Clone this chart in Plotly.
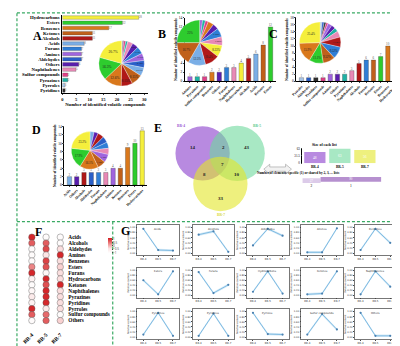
import plotly.graph_objects as go

W, H = 400, 346
SERIF = "Liberation Serif"
SANS = "DejaVu Sans"

# ---------------- data ----------------
a_categories = ["Hydrocarbons", "Esters", "Benzenes", "Ketones", "Alcohols", "Acids", "Furans",
                "Amines", "Aldehydes", "Others", "Naphthalenes", "Sulfur compounds", "Pyrazines",
                "Pyrroles", "Pyridines"]
a_values = [28, 22, 17, 11, 11, 8, 7, 7, 7, 6, 5, 2, 2, 1, 1]

b_categories = ["Amines", "Pyrazines", "Sulfur compounds", "Benzenes", "Others", "Furans",
                "Naphthalenes", "Hydrocarbons", "Alcohols", "Acids", "Ketones", "Esters"]
b_values = [1, 1, 1, 2, 2, 3, 3, 4, 5, 6, 8, 12]

c_categories = ["Pyrroles", "Aldehydes", "Pyridines", "Sulfur compounds", "Amines", "Others",
                "Pyrazines", "Naphthalenes", "Alcohols", "Furans", "Ketones", "Esters",
                "Benzenes", "Hydrocarbons"]
c_values = [1, 1, 1, 1, 2, 2, 2, 3, 5, 6, 6, 7, 10, 16]

d_categories = ["Acids", "Others", "Alcohols", "Aldehydes", "Furans", "Naphthalenes", "Amines",
                "Ketones", "Benzenes", "Esters", "Hydrocarbons"]
d_values = [2, 2, 3, 3, 3, 3, 4, 4, 9, 10, 13]

samples = ["BR-4", "BR-5", "BR-7"]
venn_regions = ["4", "5", "7", "4&5", "4&7", "5&7", "4&5&7"]
venn_counts = [14, 43, 33, 2, 8, 10, 7]
upset_sizes = [48, 63, 56]
degree_labels = ["2", "1"]
degree_counts = [27, 90]

f_classes = ["Acids", "Alcohols", "Aldehydes", "Amines", "Benzenes", "Esters", "Furans",
             "Hydrocarbons", "Ketones", "Naphthalenes", "Pyrazines", "Pyridines", "Pyrroles",
             "Sulfur compounds", "Others"]
f_br4 = [1.0, 0.6, -1.0, -1.0, -1.0, 0.3, 1.0, -0.8, -1.0, -0.9, -0.6, -0.8, 1.0, 0.6, -1.0]
f_br5 = [-1.0, 0.6, 0.75, -0.5, 0.8, 0.7, -0.9, 1.0, 0.7, 1.0, 1.0, 1.0, -0.6, 0.5, 0.6]
f_br7 = [-1.0, -1.0, -0.4, 1.0, -0.4, -0.3, -0.4, -0.4, 1.0, -0.4, -0.4, -0.4, -0.4, -1.0, -0.3]

g_classes = f_classes
g_br4 = [0.95, 0.72, 0.30, 0.03, 0.12, 0.60, 0.92, 0.15, 0.05, 0.05, 0.10, 0.05, 0.95, 0.10, 0.95]
g_br5 = [0.12, 0.85, 0.95, 0.03, 0.95, 0.05, 0.10, 0.95, 0.08, 0.95, 0.95, 0.92, 0.12, 0.90, 0.05]
g_br7 = [0.10, 0.05, 0.68, 0.97, 0.40, 0.95, 0.42, 0.08, 0.95, 0.35, 0.05, 0.05, 0.10, 0.30, 0.05]
g_band = 0.05

class_colors = {
    "Hydrocarbons": "#f5ef3c", "Esters": "#2ecc2e", "Benzenes": "#d9781c", "Ketones": "#c0601a",
    "Alcohols": "#b01818", "Acids": "#7aaee6", "Furans": "#2f7ed6", "Amines": "#a064de",
    "Aldehydes": "#2a5fc8", "Others": "#5a1eae", "Naphthalenes": "#e889b6",
    "Sulfur compounds": "#de3f86", "Pyrazines": "#1eb2a4", "Pyrroles": "#a8c6e8",
    "Pyridines": "#2e2e2e",
}
set_colors = ["#893ccb", "#6ed99d", "#e3e628"]
bar_set_colors = ["#b88ae0", "#a8e8c4", "#eef07e"]


def dx(a, b):
    return [a / W, b / W]


def dy(a, b):
    return [1 - b / H, 1 - a / H]


def px(x):
    return x / W


def py(y):
    return 1 - y / H


fig = go.Figure()
lay = dict(width=W, height=H, margin=dict(l=0, r=0, t=0, b=0), paper_bgcolor="white",
           plot_bgcolor="rgba(0,0,0,0)", showlegend=False)
annotations = []
shapes = []


def add_axes(n, xd, yd, xkw, ykw):
    s = "" if n == 1 else str(n)
    base = dict(showgrid=False, zeroline=False)
    lay["xaxis" + s] = {**base, "domain": xd, "anchor": "y" + s, **xkw}
    lay["yaxis" + s] = {**base, "domain": yd, "anchor": "x" + s, **ykw}
    return "x" + s, "y" + s


def make_pie(cats, vals, cx, cy, r, fs, min_frac):
    # slices in ascending order, clockwise from 12 o'clock: the largest ends at the top on the left
    pairs = sorted(zip(vals, cats), key=lambda p: p[0])
    v_sorted = [p[0] for p in pairs]
    c_sorted = [p[1] for p in pairs]
    tot = sum(v_sorted)
    pos = ["inside" if v / tot >= min_frac else "none" for v in v_sorted]
    return go.Pie(labels=c_sorted, values=v_sorted,
                  marker=dict(colors=[class_colors[c] for c in c_sorted], line=dict(color="white", width=0.3)),
                  sort=False, direction="clockwise", textinfo="percent", textposition=pos,
                  insidetextorientation="horizontal",
                  textfont=dict(size=fs, color="#222", family=SERIF),
                  domain=dict(x=dx(cx - r, cx + r), y=dy(cy - r, cy + r)),
                  hoverinfo="skip", showlegend=False)


# ---------------- Panel A ----------------
xa, ya = add_axes(1, dx(50, 137), dy(5, 84),
                  dict(range=[0, 31.5], tickvals=[0, 5, 10, 15, 20, 25, 30], ticks="outside", ticklen=1.5,
                       tickwidth=0.5, showline=True, linecolor="black", linewidth=0.6,
                       tickfont=dict(family=SERIF, size=4.5, color="black", weight="bold"),
                       title=dict(text="Number of identified volatile compounds",
                                  font=dict(family=SERIF, size=4.6, color="black", weight="bold"), standoff=2)),
                  dict(type="category", autorange="reversed", showline=True, linecolor="black", linewidth=0.6,
                       tickmode="array", tickvals=a_categories, ticktext=a_categories,
                       ticks="", tickfont=dict(family=SERIF, size=4.8, color="black", weight="bold"),
                       ticklabelstandoff=1))
fig.add_trace(go.Bar(x=a_values, y=a_categories, orientation="h",
                     marker=dict(color=[class_colors[c] for c in a_categories], line=dict(color="#444", width=0.3)),
                     width=0.68, text=[str(v) for v in a_values], textposition="outside",
                     textfont=dict(size=3.5, color="#666", family=SERIF), cliponaxis=False,
                     xaxis=xa, yaxis=ya, hoverinfo="skip"))
fig.add_trace(make_pie(a_categories, a_values, 110, 54, 23, 3.6, 0.04))


# ---------------- Panels B, C, D ----------------
def bar_panel(n, xd, yd, cats, vals, ymax, pie_c, pie_r):
    xa, ya = add_axes(n, xd, yd,
                      dict(type="category", tickangle=-45, range=[-0.7, len(cats) - 0.3],
                           tickmode="array", tickvals=cats, ticktext=cats,
                           tickfont=dict(family=SERIF, size=3.6, color="black", weight="bold"),
                           showline=True, linecolor="black", linewidth=0.6, ticks="outside", ticklen=1.2,
                           tickwidth=0.5),
                      dict(range=[0, ymax], dtick=2, tickfont=dict(family=SERIF, size=3.5, color="black"),
                           showline=True, linecolor="black", linewidth=0.6, ticks="outside", ticklen=1.2,
                           tickwidth=0.5,
                           title=dict(text="Number of identified volatile compounds",
                                      font=dict(family=SERIF, size=3.6, color="black", weight="bold"),
                                      standoff=1)))
    fig.add_trace(go.Bar(x=cats, y=vals,
                         marker=dict(color=[class_colors[c] for c in cats], line=dict(color="#333", width=0.3)),
                         width=0.6, text=[str(v) for v in vals], textposition="outside",
                         textfont=dict(size=3.2, color="#555", family=SERIF), cliponaxis=False,
                         xaxis=xa, yaxis=ya, hoverinfo="skip"))
    fig.add_trace(make_pie(cats, vals, pie_c[0], pie_c[1], pie_r, 3.0, 0.06))


bar_panel(2, dx(174, 266), dy(8, 72), b_categories, b_values, 14, (189, 33), 23)
bar_panel(3, dx(287, 392), dy(8, 72), c_categories, c_values, 18, (311, 33), 21)
bar_panel(4, dx(52, 136), dy(118, 177), d_categories, d_values, 14, (78, 142), 19)

# ---------------- Panel E: Venn ----------------
xa, ya = add_axes(5, dx(150, 292), dy(115, 213),
                  dict(range=[150, 292], visible=False), dict(range=[213, 115], visible=False))
venn_circles = [(192, 145, 27.5), (227, 145, 28), (210, 176, 27.5)]
for (cx, cy, r), col in zip(venn_circles, set_colors):
    shapes.append(dict(type="circle", xref=xa, yref=ya, x0=cx - r, x1=cx + r, y0=cy - r, y1=cy + r,
                       fillcolor=col, opacity=0.6, line=dict(width=0), layer="below"))
region_pos = {"4": (182, 139), "5": (237, 139), "7": (211, 191), "4&5": (213, 139),
              "4&7": (194, 166), "5&7": (227, 166), "4&5&7": (212, 156)}
for reg, cnt in zip(venn_regions, venn_counts):
    x, y = region_pos[reg]
    annotations.append(dict(text=str(cnt), x=x, y=y, xref=xa, yref=ya, showarrow=False,
                            font=dict(family=SERIF, size=5, color="#222", weight="bold")))
for name, (x, y), col in zip(samples, [(170, 117.5), (247, 117.5), (211, 207)],
                             ["#9a58d3", "#58c98c", "#d8d83a"]):
    annotations.append(dict(text=name, x=x, y=y, xref=xa, yref=ya, showarrow=False,
                            font=dict(family=SERIF, size=3.6, color=col, weight="bold")))
shapes.append(dict(type="path", xref=xa, yref=ya,
                   path="M254,161 L260,156 L260,158.8 L276,158.8 L276,156 L282,161 L276,166 L276,163.2 "
                        "L260,163.2 L260,166 Z",
                   fillcolor="#f2f2f2", line=dict(color="#9a9a9a", width=0.6)))

# ---------------- Panel E: set sizes ----------------
xa, ya = add_axes(6, dx(293, 369), dy(140, 155),
                  dict(type="category", tickfont=dict(family=SERIF, size=3.5, color="black", weight="bold"),
                       ticks="", ticklabelstandoff=0),
                  dict(range=[0, 63], tickvals=[0, 31.5, 63], ticktext=["0", "31.5", "63"],
                       tickfont=dict(family=SERIF, size=3.2, color="black"), showline=True,
                       linecolor="black", linewidth=0.5, ticks="outside", ticklen=1, tickwidth=0.4))
fig.add_trace(go.Bar(x=samples, y=upset_sizes, marker=dict(color=bar_set_colors, line=dict(width=0)),
                     width=0.85, text=[str(v) for v in upset_sizes], textposition="inside",
                     insidetextanchor="middle", textfont=dict(size=3.5, color="white", family=SERIF),
                     xaxis=xa, yaxis=ya, hoverinfo="skip"))
annotations.append(dict(text="Size of each list", x=px(331), y=py(136.5), xref="paper", yref="paper",
                        showarrow=False, font=dict(family=SERIF, size=3.8, color="black", weight="bold")))
annotations.append(dict(text="Number of elements: specific (1) or shared by 2, 3, ... lists",
                        x=px(333), y=py(165), xref="paper", yref="paper", showarrow=False,
                        font=dict(family=SERIF, size=3.4, color="black", weight="bold")))

# ---------------- Panel E: degree bar ----------------
xa, ya = add_axes(7, dx(293, 373), dy(169, 175),
                  dict(range=[0, sum(degree_counts)], tickvals=[degree_counts[0] / 2,
                                                                 degree_counts[0] + degree_counts[1] / 2],
                       ticktext=degree_labels, tickfont=dict(family=SERIF, size=3.5, color="black"),
                       ticks="", showline=False),
                  dict(visible=False, range=[-0.5, 0.5]))
base = 0
for lbl, cnt, col in zip(degree_labels, degree_counts, ["#dccbe9", "#b690cf"]):
    fig.add_trace(go.Bar(x=[cnt], y=[0], base=base, orientation="h", width=1,
                         marker=dict(color=col, line=dict(width=0)), text=[str(cnt)],
                         textposition="inside", insidetextanchor="middle",
                         textfont=dict(size=3.2, color="white", family=SERIF),
                         xaxis=xa, yaxis=ya, hoverinfo="skip"))
    base += cnt

# ---------------- Panel F ----------------
xa, ya = add_axes(8, dx(13, 54), dy(220.6, 323.4),
                  dict(type="category", tickangle=-45, ticks="", showline=False,
                       tickmode="array", tickvals=samples, ticktext=samples,
                       tickfont=dict(family=SERIF, size=5.5, color="black", weight="bold")),
                  dict(type="category", autorange="reversed", side="right", ticks="", showline=False,
                       tickmode="array", tickvals=f_classes, ticktext=f_classes,
                       ticklabelstandoff=1, tickfont=dict(family=SERIF, size=5.3, color="black", weight="bold")))
fx, fy, fz = [], [], []
for s, col in zip(samples, [f_br4, f_br5, f_br7]):
    for cls, v in zip(f_classes, col):
        fx.append(s)
        fy.append(cls)
        fz.append(v)
fig.add_trace(go.Scatter(x=fx, y=fy, mode="markers", xaxis=xa, yaxis=ya, hoverinfo="skip",
                         marker=dict(size=6.4, color=fz, cmin=-1.1, cmax=1.1,
                                     colorscale=[[0, "#ffffff"], [0.3, "#fbe3e3"], [0.6, "#f09090"],
                                                 [1, "#d21a1e"]],
                                     line=dict(color="#555", width=0.4),
                                     colorbar=dict(x=px(86), xanchor="left", y=py(221), yanchor="top",
                                                   len=35 / H, lenmode="fraction", thickness=4,
                                                   thicknessmode="pixels", outlinewidth=0,
                                                   tickvals=[-1, -0.5, 0, 0.5, 1], ticklen=1,
                                                   tickfont=dict(size=3, color="#333")))))

# ---------------- Panel G ----------------
g_lefts = [126, 182, 237, 292, 346]
g_rows = [(218, 248), (261, 291), (303, 333)]
for i, name in enumerate(g_classes):
    r, c = divmod(i, 5)
    n = 9 + i
    x0 = g_lefts[c]
    y0, y1 = g_rows[r]
    xa, ya = add_axes(n, dx(x0, x0 + 42), dy(y0, y1),
                      dict(type="category", range=[-0.4, 2.4], showline=True, mirror=True, linecolor="#777",
                           linewidth=0.4, ticks="outside", ticklen=1, tickwidth=0.3,
                           tickfont=dict(family=SANS, size=2.6, color="#333")),
                      dict(range=[-0.08, 1.08], nticks=7, tickformat=".2f", showline=True, mirror=True,
                           linecolor="#777", linewidth=0.4, ticks="outside", ticklen=1, tickwidth=0.3,
                           tickfont=dict(family=SANS, size=2.4, color="#333"),
                           title=dict(text="Relative content", font=dict(family=SANS, size=2.4, color="#333"),
                                      standoff=1)))
    vals = [g_br4[i], g_br5[i], g_br7[i]]
    up = [v + g_band for v in vals]
    lo = [v - g_band for v in vals]
    fig.add_trace(go.Scatter(x=samples + samples[::-1], y=up + lo[::-1], fill="toself",
                             fillcolor="rgba(135,196,232,0.35)", line=dict(width=0), mode="lines",
                             xaxis=xa, yaxis=ya, hoverinfo="skip"))
    fig.add_trace(go.Scatter(x=samples, y=vals, mode="lines+markers", line=dict(color="#6aaedc", width=0.8),
                             marker=dict(size=2.2, color="#4a80b0"), xaxis=xa, yaxis=ya, hoverinfo="skip"))
    annotations.append(dict(text=name, xref=xa + " domain", yref=ya + " domain", x=0.5, y=0.99,
                            yanchor="top", showarrow=False, font=dict(family=SANS, size=2.6, color="#333")))

# ---------------- borders and panel letters ----------------
BORDER = dict(color="#3aaa64", width=1.2, dash="3px,2px")
shapes.append(dict(type="rect", xref="paper", yref="paper", x0=px(4), x1=px(396), y0=py(3), y1=py(344),
                   line=BORDER))
shapes.append(dict(type="line", xref="paper", yref="paper", x0=px(4), x1=px(396), y0=py(214), y1=py(214),
                   line=BORDER))
shapes.append(dict(type="line", xref="paper", yref="paper", x0=px(101), x1=px(101), y0=py(214), y1=py(344),
                   line=BORDER))
for letter, (x, y) in zip("ABCDEFG", [(18, 17), (151, 15), (264, 15), (17, 121), (147, 119), (20, 225),
                                      (107, 224)]):
    annotations.append(dict(text=letter, x=px(x), y=py(y), xref="paper", yref="paper", showarrow=False,
                            font=dict(family=SERIF, size=12, color="black", weight="bold")))

lay["annotations"] = annotations
lay["shapes"] = shapes
fig.update_layout(**lay)
fig.write_html("out.html")
